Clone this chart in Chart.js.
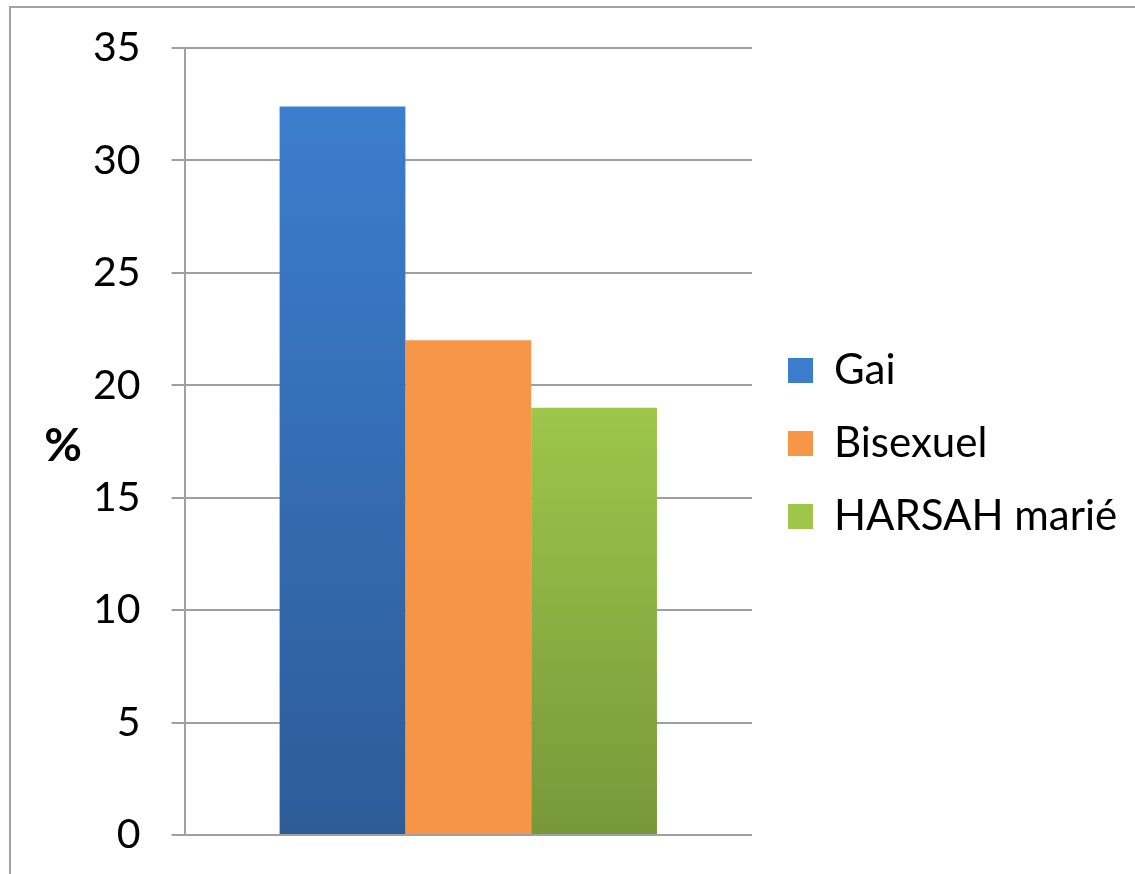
<!DOCTYPE html>
<html>
<head>
<meta charset="utf-8">
<script src="https://cdn.jsdelivr.net/npm/chart.js@4.4.1/dist/chart.umd.min.js"></script>
<style>
  html, body { margin: 0; padding: 0; background: #ffffff; }
  #wrap { position: relative; width: 1135px; height: 874px; overflow: hidden; }
  #frame { position: absolute; left: 9px; top: 6px; width: 1200px; height: 1000px;
           border-left: 2px solid #a3a3a3; border-top: 2px solid #a3a3a3; }
  canvas { position: absolute; left: 0; top: 0; }
</style>
</head>
<body>
<div id="wrap">
  <div id="frame"></div>
  <canvas id="c" width="1135" height="874"></canvas>
</div>
<script>
// ---- data ----
const categories = [""];
const seriesNames = ["Gai", "Bisexuel", "HARSAH marié"];
const gaiValues = [32.4];
const bisexuelValues = [22];
const harsahValues = [19];
const yTicks = [0, 5, 10, 15, 20, 25, 30, 35];
const yAxisLabel = "%";

// ---- styles ----
const colorStops = [
  ["#3c7dcd", "#2d5c98"],
  ["#f79646", "#f59545"],
  ["#9dc64b", "#779839"]
];

function gradientFor(idx) {
  return function(context) {
    const chart = context.chart;
    const area = chart.chartArea;
    if (!area) return colorStops[idx][0];
    const y = chart.scales.y;
    const top = y.getPixelForValue(context.dataset.data[0]);
    const g = chart.ctx.createLinearGradient(0, top, 0, area.bottom);
    g.addColorStop(0, colorStops[idx][0]);
    g.addColorStop(1, colorStops[idx][1]);
    return g;
  };
}

const percentTitle = {
  id: 'percentTitle',
  afterDraw(chart) {
    const ctx = chart.ctx;
    ctx.save();
    ctx.font = 'bold 46px Lato';
    ctx.fillStyle = '#000000';
    ctx.textAlign = 'center';
    ctx.textBaseline = 'middle';
    ctx.fillText(yAxisLabel, 63, 446);
    ctx.restore();
  }
};

// widen the legend box so its long label is not clipped
const legendRoom = {
  id: 'legendRoom',
  afterLayout(chart) {
    const lg = chart.legend;
    if (!lg) return;
    lg.left += 5;
    lg.right = chart.width;
    lg.width = lg.right - lg.left;
    lg.top += 2;
    lg.bottom += 2;
  }
};

const seriesData = [gaiValues, bisexuelValues, harsahValues];

new Chart(document.getElementById('c'), {
  type: 'bar',
  data: {
    labels: categories,
    datasets: seriesNames.map((name, i) => ({
      label: name,
      data: seriesData[i],
      backgroundColor: gradientFor(i),
      borderWidth: 0,
      barPercentage: 1.0,
      categoryPercentage: 0.665
    }))
  },
  options: {
    responsive: false,
    animation: false,
    devicePixelRatio: 1,
    layout: { padding: { left: 62, top: 48, bottom: 39, right: 153 } },
    plugins: {
      tooltip: { enabled: false },
      legend: {
        position: 'right',
        align: 'center',
        fullSize: false,
        labels: {
          boxWidth: 25,
          boxHeight: 25,
          padding: 31,
          color: '#000000',
          font: { family: 'Lato', size: 42 },
          generateLabels(chart) {
            return chart.data.datasets.map((ds, i) => ({
              text: ds.label,
              fillStyle: colorStops[i][0],
              strokeStyle: colorStops[i][0],
              lineWidth: 0,
              hidden: false,
              datasetIndex: i
            }));
          }
        }
      }
    },
    scales: {
      x: {
        display: false,
        grid: { display: false }
      },
      y: {
        min: 0,
        max: 35,
        afterBuildTicks(scale) { scale.ticks = yTicks.map(v => ({ value: v })); },
        ticks: {
          padding: 31,
          color: '#000000',
          font: { family: 'Lato', size: 41, lineHeight: 0.3 }
        },
        grid: {
          color: '#a0a0a0',
          lineWidth: 2,
          tickLength: 13,
          drawTicks: true
        },
        border: { color: '#a0a0a0', width: 2 }
      }
    }
  },
  plugins: [percentTitle, legendRoom]
});
</script>
</body>
</html>
